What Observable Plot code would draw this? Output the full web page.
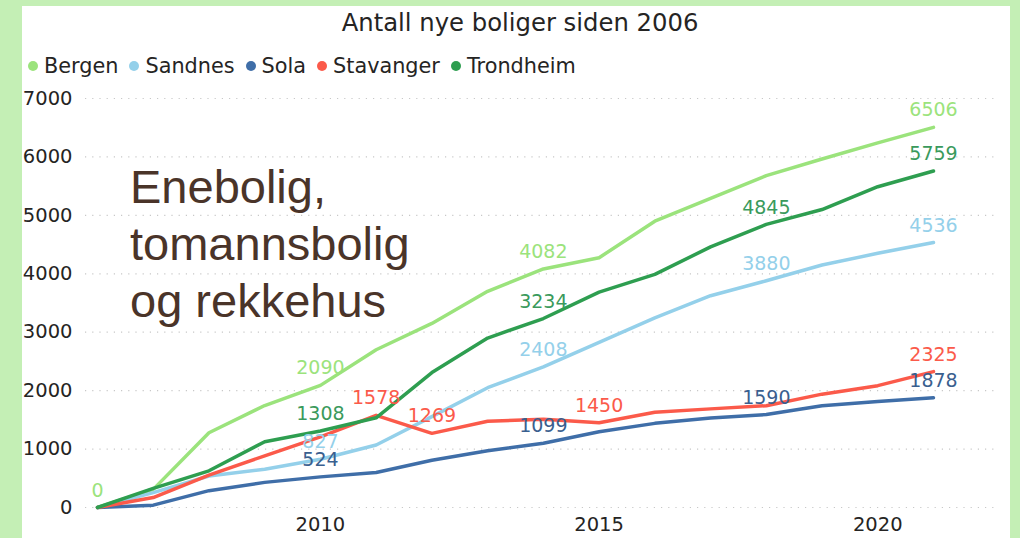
<!DOCTYPE html>
<html>
<head>
<meta charset="utf-8">
<script src="https://cdn.jsdelivr.net/npm/d3@7"></script>
<script src="https://cdn.jsdelivr.net/npm/@observablehq/plot@0.6"></script>
<style>
  html, body { margin: 0; padding: 0; }
  body { width: 1020px; height: 538px; background: #c4efb5; position: relative; overflow: hidden; font-family: "DejaVu Sans", Verdana, sans-serif; }
  #panel { position: absolute; left: 22px; top: 6px; width: 988px; height: 532px; background: #ffffff; }
  #title { position: absolute; left: 0; top: 8px; width: 1040px; text-align: center; font-size: 24.3px; color: #252423; }
  #legend { position: absolute; left: 28px; top: 54px; display: flex; font-size: 20.8px; color: #252423; white-space: nowrap; }
  #legend .item { display: flex; align-items: center; margin-right: 11px; }
  #legend .dot { width: 10px; height: 10px; border-radius: 50%; margin-right: 6px; }
  #chart { position: absolute; left: 0; top: 0; }
  #note { position: absolute; left: 130px; top: 158px; font-family: "Liberation Sans", Arial, sans-serif; font-size: 47px; line-height: 57px; color: #4a3429; }
</style>
</head>
<body>
<div id="panel"></div>
<div id="title">Antall nye boliger siden 2006</div>
<div id="legend"></div>
<div id="chart"></div>
<div id="note">Enebolig,<br>tomannsbolig<br>og rekkehus</div>
<script>
const years = [2006, 2007, 2008, 2009, 2010, 2011, 2012, 2013, 2014, 2015, 2016, 2017, 2018, 2019, 2020, 2021];
const cities = ["Bergen", "Sandnes", "Sola", "Stavanger", "Trondheim"];
const colors = ["#9be37c", "#94d0ea", "#3f6ea8", "#fb5a4a", "#2e9e50"];
const labelColors = ["#9be37c", "#94d0ea", "#3a5f8f", "#fb5a4a", "#3a9a5c"];
const bergen    = [0, 310, 1280, 1745, 2090, 2700, 3150, 3700, 4082, 4275, 4900, 5290, 5680, 5965, 6240, 6506];
const sandnes   = [0, 255, 540, 655, 827, 1070, 1555, 2050, 2408, 2825, 3245, 3625, 3880, 4150, 4350, 4536];
const sola      = [0, 40, 288, 430, 524, 600, 810, 970, 1099, 1295, 1440, 1532, 1590, 1740, 1815, 1878];
const stavanger = [0, 170, 555, 885, 1210, 1578, 1269, 1475, 1512, 1450, 1630, 1688, 1742, 1940, 2085, 2325];
const trondheim = [0, 326, 628, 1125, 1308, 1535, 2310, 2900, 3234, 3686, 3990, 4460, 4845, 5100, 5490, 5759];
const series = [bergen, sandnes, sola, stavanger, trondheim];
// years that carry a value label, per city
const labelYears = {
  Bergen: [2006, 2010, 2014, 2021],
  Sandnes: [2010, 2014, 2018, 2021],
  Sola: [2010, 2014, 2018, 2021],
  Stavanger: [2011, 2012, 2015, 2021],
  Trondheim: [2010, 2014, 2018, 2021]
};
const yTicks = [0, 1000, 2000, 3000, 4000, 5000, 6000, 7000];
const xTicks = [2010, 2015, 2020];

const rows = [];
cities.forEach((c, i) => years.forEach((yr, j) => rows.push({city: c, year: yr, value: series[i][j]})));
const labels = rows.filter(d => labelYears[d.city].includes(d.year));

// legend
const leg = document.getElementById("legend");
cities.forEach((c, i) => {
  const it = document.createElement("div");
  it.className = "item";
  it.innerHTML = `<span class="dot" style="background:${colors[i]}"></span><span>${c}</span>`;
  leg.appendChild(it);
});

const chart = Plot.plot({
  width: 1020,
  height: 538,
  marginTop: 98,
  marginBottom: 31,
  marginLeft: 97,
  marginRight: 87,
  style: {background: "transparent", fontFamily: "DejaVu Sans, Verdana, sans-serif", fontSize: "19.5px", color: "#252423"},
  x: {domain: [2006, 2021], ticks: xTicks, tickFormat: d => String(d), tickSize: 0, tickPadding: 10, label: null},
  y: {domain: [0, 7000], ticks: yTicks, tickFormat: d => String(d), tickSize: 0, tickPadding: 25, label: null},
  color: {domain: cities, range: colors},
  marks: [
    Plot.ruleY(yTicks, {stroke: "#c8c8c8", strokeWidth: 1.2, strokeDasharray: "1.2,6", insetLeft: -12, insetRight: -64}),
    Plot.lineY(rows, {x: "year", y: "value", stroke: "city", z: "city", strokeWidth: 3.5, strokeLinejoin: "round"}),
    Plot.text(labels, {x: "year", y: "value", text: d => String(d.value), dy: -17, fontSize: 19,
      fill: d => labelColors[cities.indexOf(d.city)]})
  ]
});
document.getElementById("chart").appendChild(chart);
</script>
</body>
</html>
